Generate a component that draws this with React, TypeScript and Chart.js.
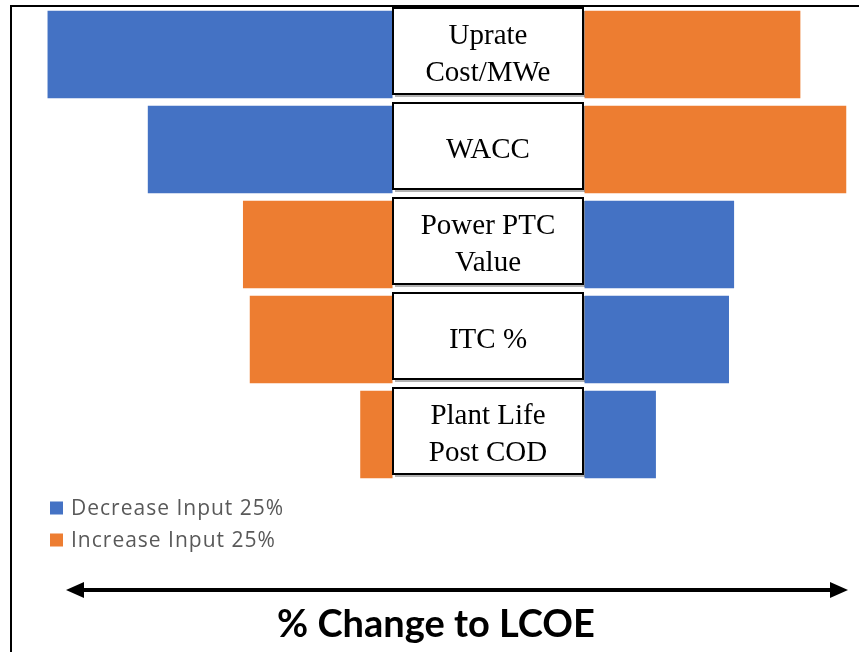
import { useEffect, useRef } from "react";
import { Chart, registerables } from "chart.js";

Chart.register(...registerables);

// ---- Data ----
const categories: string[][] = [
  ["Uprate", "Cost/MWe"],
  ["WACC"],
  ["Power PTC", "Value"],
  ["ITC %"],
  ["Plant Life", "Post COD"],
];
// signed % change to LCOE (negative = left of centre)
const decreaseInput25 = [-20.3, -14.4, 8.8, 8.5, 4.2];
const increaseInput25 = [12.7, 15.4, -8.8, -8.4, -1.9];
const seriesNames = ["Decrease Input 25%", "Increase Input 25%"];
const seriesColors = ["#4472C4", "#ED7D31"];
const axisTitle = "% Change to LCOE";

// half-width of the central label gap, in value units
const HALF_GAP = 5.65;
const X_MIN = -28.1;
const X_MAX = 21.8;

const toFloating = (v: number): [number, number] =>
  v < 0 ? [-HALF_GAP + v, -HALF_GAP] : [HALF_GAP, HALF_GAP + v];

const overlayPlugin = {
  id: "tornadoOverlay",
  afterDatasetsDraw(chart: any) {
    const ctx = chart.ctx as CanvasRenderingContext2D;
    const xs = chart.scales.x;
    const ys = chart.scales.y;
    const left = Math.round(xs.getPixelForValue(-HALF_GAP));
    const right = Math.round(xs.getPixelForValue(HALF_GAP)) - 2;
    const h = 86;
    ctx.save();
    categories.forEach((lines, i) => {
      const cy = ys.getPixelForValue(i) - 4;
      const top = Math.round(cy - h / 2);
      // shadow
      ctx.fillStyle = "rgba(0,0,0,0.3)";
      ctx.fillRect(left + 2, top + 3, right - left, h);
      ctx.fillStyle = "#ffffff";
      ctx.fillRect(left, top, right - left, h);
      ctx.strokeStyle = "#000000";
      ctx.lineWidth = 2;
      ctx.strokeRect(left, top, right - left, h);
      ctx.fillStyle = "#000000";
      ctx.font = '29px "Liberation Serif", "Times New Roman", serif';
      ctx.textAlign = "center";
      ctx.textBaseline = "alphabetic";
      const n = lines.length;
      lines.forEach((t, j) => {
        const by = cy + 12 + (j - (n - 1) / 2) * 37;
        ctx.fillText(t, (left + right) / 2, by);
      });
    });
    ctx.restore();
  },
  afterDraw(chart: any) {
    const ctx = chart.ctx as CanvasRenderingContext2D;
    ctx.save();
    // frame (cropped on right/bottom)
    ctx.strokeStyle = "#000000";
    ctx.lineWidth = 2;
    ctx.beginPath();
    ctx.moveTo(11, 660);
    ctx.lineTo(11, 6);
    ctx.lineTo(870, 6);
    ctx.stroke();

    // legend
    chart.data.datasets.forEach((ds: any, i: number) => {
      const cy = 508 + i * 32;
      ctx.fillStyle = ds.backgroundColor;
      ctx.fillRect(50, cy - 6.5, 13, 13);
      ctx.fillStyle = "#595959";
      ctx.font = '21px "Open Sans", sans-serif';
      (ctx as any).letterSpacing = "1px";
      ctx.textAlign = "left";
      ctx.textBaseline = "middle";
      ctx.fillText(ds.label, 71, cy + 1);
      (ctx as any).letterSpacing = "0px";
    });

    // arrow
    const ay = 590;
    const x0 = 66;
    const x1 = 848;
    ctx.strokeStyle = "#000000";
    ctx.fillStyle = "#000000";
    ctx.lineWidth = 4;
    ctx.beginPath();
    ctx.moveTo(x0 + 12, ay);
    ctx.lineTo(x1 - 12, ay);
    ctx.stroke();
    ctx.beginPath();
    ctx.moveTo(x0, ay);
    ctx.lineTo(x0 + 18, ay - 8);
    ctx.lineTo(x0 + 18, ay + 8);
    ctx.closePath();
    ctx.fill();
    ctx.beginPath();
    ctx.moveTo(x1, ay);
    ctx.lineTo(x1 - 18, ay - 8);
    ctx.lineTo(x1 - 18, ay + 8);
    ctx.closePath();
    ctx.fill();

    // axis title
    ctx.fillStyle = "#000000";
    ctx.font = 'bold 38px Lato, "Open Sans", sans-serif';
    ctx.textAlign = "center";
    ctx.textBaseline = "middle";
    ctx.fillText(axisTitle, 436, 625);
    ctx.restore();
  },
};

export default function App() {
  const canvasRef = useRef<HTMLCanvasElement | null>(null);

  useEffect(() => {
    if (!canvasRef.current) return;
    const chart = new Chart(canvasRef.current, {
      type: "bar",
      data: {
        labels: categories as any,
        datasets: [
          {
            label: seriesNames[0],
            data: decreaseInput25.map(toFloating) as any,
            backgroundColor: seriesColors[0],
            borderWidth: 0,
            barPercentage: 0.92,
            categoryPercentage: 1,
          },
          {
            label: seriesNames[1],
            data: increaseInput25.map(toFloating) as any,
            backgroundColor: seriesColors[1],
            borderWidth: 0,
            barPercentage: 0.92,
            categoryPercentage: 1,
          },
        ],
      },
      options: {
        indexAxis: "y",
        animation: false,
        responsive: true,
        maintainAspectRatio: false,
        layout: { padding: { top: 7, bottom: 170, left: 11, right: 0 } },
        scales: {
          x: { type: "linear", min: X_MIN, max: X_MAX, display: false },
          y: { type: "category", stacked: true, display: false },
        },
        plugins: {
          legend: { display: false },
          tooltip: { enabled: false },
        },
      },
      plugins: [overlayPlugin],
    });
    return () => chart.destroy();
  }, []);

  return (
    <div
      style={{
        position: "fixed",
        left: 0,
        top: 0,
        width: 859,
        height: 652,
        background: "#ffffff",
      }}
    >
      <canvas ref={canvasRef} />
    </div>
  );
}
